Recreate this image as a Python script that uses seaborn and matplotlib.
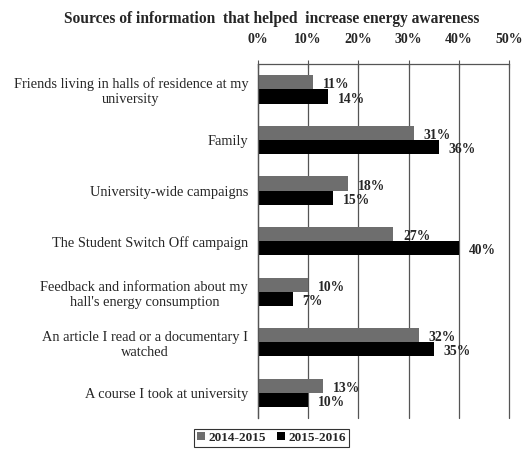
import matplotlib
matplotlib.use("Agg")
import matplotlib.pyplot as plt
import seaborn as sns
import pandas as pd
import numpy as np

categories = [
    "Friends living in halls of residence at my\nuniversity",
    "Family",
    "University-wide campaigns",
    "The Student Switch Off campaign",
    "Feedback and information about my\nhall's energy consumption",
    "An article I read or a documentary I\nwatched",
    "A course I took at university",
]
years = ["2014-2015", "2015-2016"]
vals_2014 = [11, 31, 18, 27, 10, 32, 13]
vals_2015 = [14, 36, 15, 40, 7, 35, 10]
xticks = [0, 10, 20, 30, 40, 50]

df = pd.DataFrame({
    "category": categories * 2,
    "year": [years[0]] * len(categories) + [years[1]] * len(categories),
    "value": vals_2014 + vals_2015,
})

sns.set_style("white")
plt.rcParams["font.family"] = ["Liberation Serif", "DejaVu Serif"]

fig = plt.figure(figsize=(5.22, 4.55), dpi=100)
ax = fig.add_axes([0.494, 0.081, 0.481, 0.778])

sns.barplot(data=df, y="category", x="value", hue="year", orient="h",
            palette=["#6e6e6e", "#000000"], width=0.56, saturation=1,
            order=categories, hue_order=years, ax=ax, legend=True,
            linewidth=0)

ax.set_xlim(0, 50)
ax.set_ylim(len(categories) - 0.5, -0.5)
ax.set_xlabel("")
ax.set_ylabel("")
ax.xaxis.tick_top()
ax.set_xticks(xticks)
ax.set_xticklabels([f"{t}%" for t in xticks], fontweight="bold", fontsize=10)
ax.tick_params(axis="x", direction="inout", length=6, width=0.8, color="#555555", pad=10)
ax.tick_params(axis="y", length=0, labelsize=10.4, pad=7)
ax.set_yticks(range(len(categories)))
ax.set_yticklabels(categories, ha="right", multialignment="center")
ax.set_yticks(np.arange(-0.5, len(categories), 1), minor=True)
ax.tick_params(axis="y", which="minor", length=4, width=0.8, color="#555555", direction="out")

ax.grid(axis="x", color="#555555", linewidth=0.9)
for gl in ax.get_xgridlines():
    gl.set_clip_on(False)
ax.set_axisbelow(True)
for s in ["bottom", "right"]:
    ax.spines[s].set_visible(False)
for s in ["top", "left"]:
    ax.spines[s].set_visible(True)
    ax.spines[s].set_color("#555555")
    ax.spines[s].set_linewidth(0.9)

for i, cont in enumerate(ax.containers):
    for bar, v in zip(cont, vals_2014 if i == 0 else vals_2015):
        y = bar.get_y() + bar.get_height() / 2 + 0.05
        ax.annotate(f"{v}%", (bar.get_width(), y), xytext=(7, 0),
                    textcoords="offset points", va="center", ha="left",
                    fontsize=9.8, fontweight="bold")

handles, labels = ax.get_legend_handles_labels()
ax.legend_.remove()
leg = fig.legend(handles, labels, loc="lower center", bbox_to_anchor=(0.52, 0.004),
                 ncol=2, frameon=True, fancybox=False, edgecolor="black",
                 handlelength=0.6, handleheight=0.6, handletextpad=0.3,
                 columnspacing=0.8, borderpad=0.2, prop={"weight": "bold", "size": 9.5})
leg.get_frame().set_linewidth(0.8)

fig.text(0.52, 0.958, "Sources of information  that helped  increase energy awareness",
         ha="center", va="center", fontsize=11.2, fontweight="bold")

fig.savefig("out.png", dpi=100)
